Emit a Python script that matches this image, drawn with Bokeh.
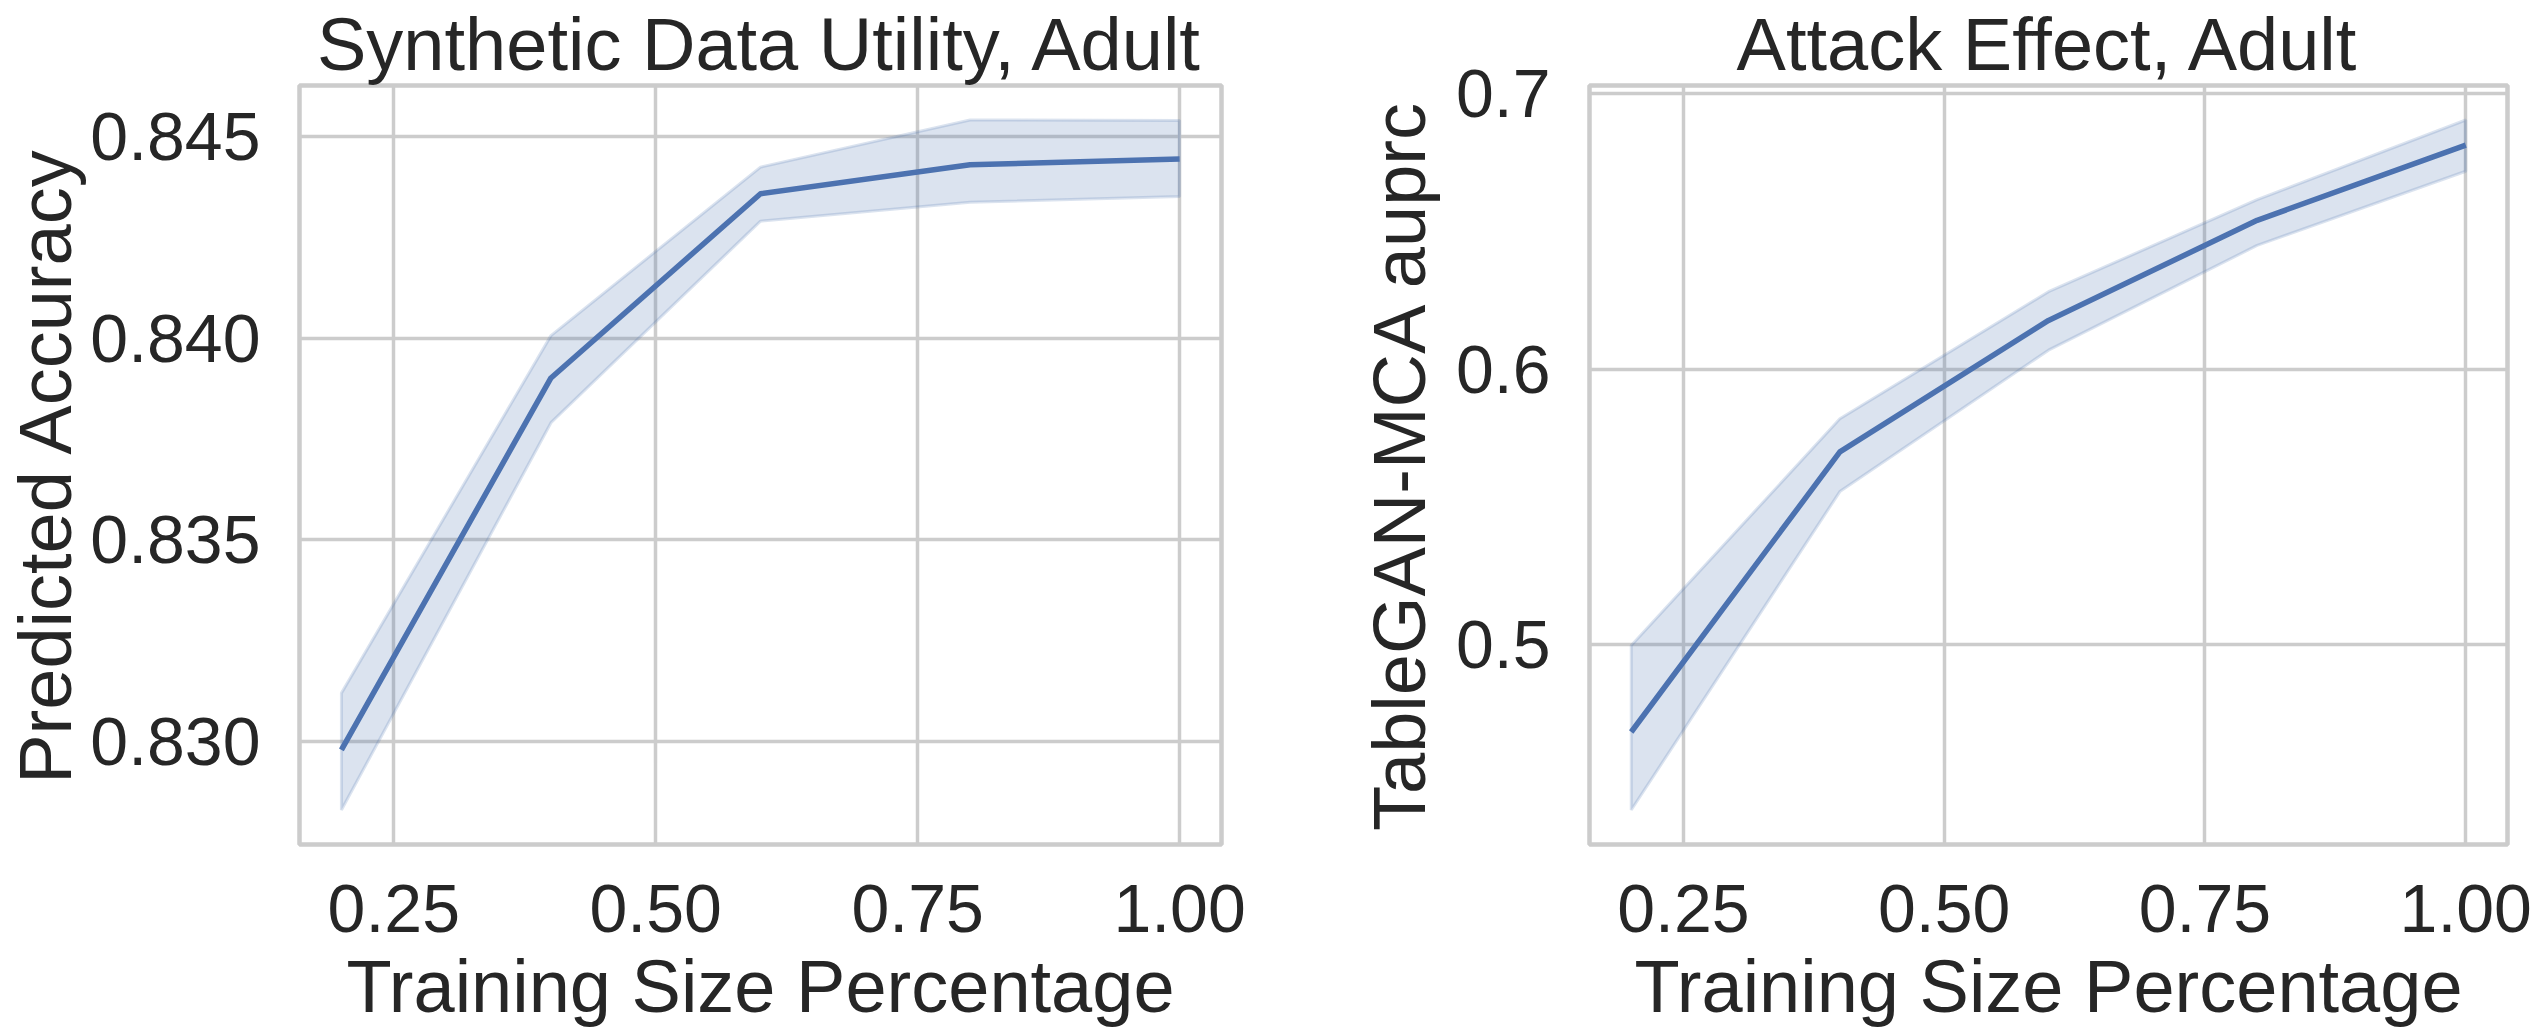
from bokeh.plotting import figure
from bokeh.layouts import row
from bokeh.models import Range1d, FixedTicker, NumeralTickFormatter
from bokeh.embed import file_html
from bokeh.resources import INLINE

# ---------------- data ----------------
train_pct = [0.2, 0.4, 0.6, 0.8, 1.0]

utility_mean = [0.82978, 0.83901, 0.84358, 0.84430, 0.84444]
utility_lower = [0.82829, 0.83790, 0.84290, 0.84337, 0.84351]
utility_upper = [0.83119, 0.84006, 0.84424, 0.84541, 0.84540]

attack_mean = [0.4684, 0.5700, 0.6177, 0.6540, 0.6813]
attack_lower = [0.4401, 0.5556, 0.6069, 0.6449, 0.6718]
attack_upper = [0.4998, 0.5820, 0.6281, 0.6615, 0.6904]

x_ticks = [0.25, 0.50, 0.75, 1.00]
utility_ticks = [0.830, 0.835, 0.840, 0.845]
attack_ticks = [0.5, 0.6, 0.7]

titles = ["Synthetic Data Utility, Adult", "Attack Effect, Adult"]
y_labels = ["Predicted Accuracy", "TableGAN-MCA auprc"]
x_label = "Training Size Percentage"

# ---------------- style ----------------
FONT = "Liberation Sans"
TEXT = "#262626"
BLUE = "#4C72B0"
GRID = "#cccccc"
HEIGHT = 1030


def padded(lo, hi, frac=0.05):
    span = hi - lo
    return Range1d(lo - frac * span, hi + frac * span)


def panel(title, ylabel, mean, lower, upper, yticks, yfmt,
          left_border, frame_w, right_border, ylabel_standoff):
    p = figure(
        width=left_border + frame_w + right_border,
        height=HEIGHT,
        min_border_left=left_border,
        min_border_right=right_border,
        min_border_top=81,
        min_border_bottom=150,
        x_range=padded(min(train_pct), max(train_pct)),
        y_range=padded(min(lower), max(upper)),
        output_backend="svg",
        toolbar_location=None,
    )
    p.background_fill_color = "white"
    p.border_fill_color = "white"
    p.outline_line_color = GRID
    p.outline_line_width = 4.5

    p.title.text = title
    p.title.align = "center"
    p.title.text_font = FONT
    p.title.text_font_size = "74px"
    p.title.text_font_style = "normal"
    p.title.text_color = TEXT
    p.title.standoff = 0

    p.grid.grid_line_color = GRID
    p.grid.grid_line_width = 3.5

    p.patch(
        x=train_pct + train_pct[::-1],
        y=upper + lower[::-1],
        fill_color=BLUE, fill_alpha=0.2,
        line_color=BLUE, line_alpha=0.2, line_width=3,
    )
    p.line(train_pct, mean, line_color=BLUE, line_width=5.5, line_join="round")

    p.xaxis.ticker = FixedTicker(ticks=x_ticks)
    p.xaxis.formatter = NumeralTickFormatter(format="0.00")
    p.yaxis.ticker = FixedTicker(ticks=yticks)
    p.yaxis.formatter = NumeralTickFormatter(format=yfmt)
    p.xaxis.axis_label = x_label
    p.yaxis.axis_label = ylabel
    for ax in p.axis:
        ax.axis_line_color = None
        ax.major_tick_line_color = None
        ax.minor_tick_line_color = None
        ax.major_tick_out = 0
        ax.major_tick_in = 0
        ax.major_label_text_font = FONT
        ax.major_label_text_font_size = "68px"
        ax.major_label_text_color = TEXT
        ax.axis_label_text_font = FONT
        ax.axis_label_text_font_size = "74px"
        ax.axis_label_text_font_style = "normal"
        ax.axis_label_text_color = TEXT
    p.yaxis.major_label_standoff = 39
    p.yaxis.axis_label_standoff = ylabel_standoff
    p.xaxis.major_label_standoff = 40
    p.xaxis.axis_label_standoff = 10
    return p


p1 = panel(titles[0], y_labels[0], utility_mean, utility_lower, utility_upper,
           utility_ticks, "0.000", 299, 922, 75, 0)
p2 = panel(titles[1], y_labels[1], attack_mean, attack_lower, attack_upper,
           attack_ticks, "0.0", 293, 918, 27, 12)

layout = row(p1, p2)
open("out.html", "w").write(file_html(layout, INLINE))
